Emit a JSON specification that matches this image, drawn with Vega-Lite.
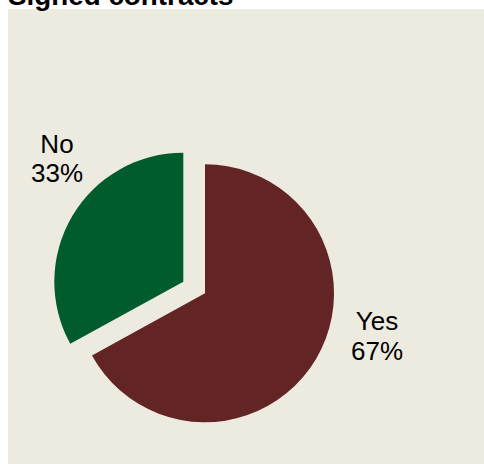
{
  "$schema": "https://vega.github.io/schema/vega-lite/v6.json",
  "autosize": {"type": "none"},
  "padding": {"left": 8, "top": 9, "right": 0, "bottom": 0},
  "width": 476,
  "height": 455,
  "background": "#ffffff",
  "view": {"fill": "#EDEAE0", "stroke": null},
  "title": {
    "text": "Signed contracts",
    "anchor": "start",
    "frame": "group",
    "offset": -23.5,
    "baseline": "alphabetic",
    "fontSize": 27.8,
    "font": "Liberation Sans",
    "fontWeight": "bold",
    "color": "#000000"
  },
  "data": {
    "values": [
      {"answer": "Yes", "value": 67, "label": "Yes\n67%"},
      {"answer": "No", "value": 33, "label": "No\n33%"}
    ]
  },
  "encoding": {
    "theta": {"field": "value", "type": "quantitative", "stack": true},
    "order": {"field": "answer", "sort": "descending"},
    "x": {"datum": 0.4139, "type": "quantitative", "scale": {"domain": [0, 1], "nice": false, "zero": false}, "axis": null},
    "y": {"datum": 0.6248, "type": "quantitative", "scale": {"domain": [0, 1], "nice": false, "zero": false, "reverse": true}, "axis": null}
  },
  "layer": [
    {
      "mark": {"type": "arc", "radius": 129},
      "encoding": {
        "color": {"field": "answer", "type": "nominal", "scale": {"domain": ["Yes", "No"], "range": ["#622424", "#005C2C"]}, "legend": null},
        "opacity": {"condition": {"test": "datum.answer == 'Yes'", "value": 1}, "value": 0}
      }
    },
    {
      "mark": {"type": "arc", "radius": 129, "xOffset": -21.7, "yOffset": -11.6},
      "encoding": {
        "color": {"field": "answer", "type": "nominal", "scale": {"domain": ["Yes", "No"], "range": ["#622424", "#005C2C"]}, "legend": null},
        "opacity": {"condition": {"test": "datum.answer == 'No'", "value": 1}, "value": 0}
      }
    },
    {
      "mark": {"type": "text", "radius": 170, "dx": 25.7, "dy": -70.8, "lineBreak": "\n", "lineHeight": 29.5, "fontSize": 26, "font": "Liberation Sans", "color": "#000000", "align": "center", "baseline": "top"},
      "encoding": {
        "text": {"field": "label"},
        "opacity": {"condition": {"test": "datum.answer == 'Yes'", "value": 1}, "value": 0}
      }
    },
    {
      "mark": {"type": "text", "radius": 170, "dx": -1.7, "dy": -74.8, "lineBreak": "\n", "lineHeight": 29.5, "fontSize": 26, "font": "Liberation Sans", "color": "#000000", "align": "center", "baseline": "top"},
      "encoding": {
        "text": {"field": "label"},
        "opacity": {"condition": {"test": "datum.answer == 'No'", "value": 1}, "value": 0}
      }
    }
  ]
}
